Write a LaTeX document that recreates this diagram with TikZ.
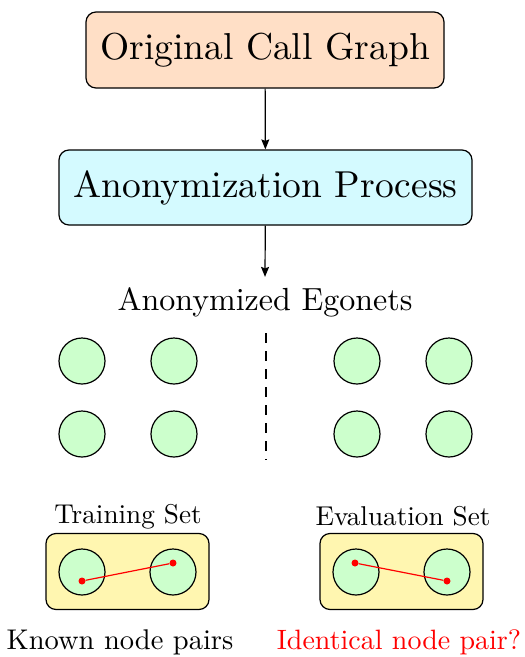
\documentclass[tikz,border=0pt]{standalone}
\usetikzlibrary{arrows.meta}
\definecolor{peach}{HTML}{FFDFC6}
\definecolor{lightcyan}{HTML}{D4FAFF}
\definecolor{nodegreen}{HTML}{CCFFCC}
\definecolor{paleyellow}{HTML}{FFF6B0}
\tikzset{
  stagebox/.style={draw=black, line width=1.2pt, rounded corners=10pt, inner sep=0pt},
  egocircle/.style={circle, draw=black, line width=1.2pt, fill=nodegreen, minimum size=46pt, inner sep=0pt},
  setbox/.style={draw=black, line width=1.2pt, rounded corners=10pt, fill=paleyellow, minimum width=163pt, minimum height=76pt, inner sep=0pt},
  reddot/.style={circle, fill=red, minimum size=7pt, inner sep=0pt},
  pairline/.style={draw=red, line width=1.2pt},
  flow/.style={-{Stealth[length=10pt,width=8pt,inset=1.5pt]}, line width=1.2pt},
  lbl/.style={inner sep=0pt}
}
\begin{document}
\begin{tikzpicture}[x=1pt,y=-1pt]
\useasboundingbox (0,0) rectangle (525,657);
% top boxes
\node[stagebox, fill=peach, minimum width=358pt, minimum height=76pt] (orig) at (265,50) {\scalebox{3.75}{Original Call Graph}};
\node[stagebox, fill=lightcyan, minimum width=413pt, minimum height=75pt] (anon) at (265.5,187.5) {\scalebox{3.75}{Anonymization Process}};
\node[lbl, inner ysep=10pt, anchor=base] (ego) at (265,310) {\scalebox{3.2}{Anonymized Egonets}};
\draw[flow] (orig) -- (anon);
\draw[flow] (anon) -- (ego.north);
% egonet circles
\node[egocircle] (c1) at (82,361) {};
\node[egocircle] (c2) at (174,361) {};
\node[egocircle] (c3) at (82,434) {};
\node[egocircle] (c4) at (174,434) {};
\node[egocircle] (c5) at (357,361) {};
\node[egocircle] (c6) at (449,361) {};
\node[egocircle] (c7) at (357,434) {};
\node[egocircle] (c8) at (449,434) {};
\coordinate (dtop) at (266,333);
\coordinate (dbot) at (266,460);
\draw[line width=1.2pt, dash pattern=on 10pt off 8pt] (dtop) -- (dbot);
% training set
\node[lbl] (trainlbl) at (128,516.5) {\scalebox{2.72}{Training Set}};
\node[setbox] (train) at (127.5,571.5) {};
\node[egocircle] (t1) at (82,572) {};
\node[egocircle] (t2) at (173,572) {};
\node[reddot] (td1) at (82,581) {};
\node[reddot] (td2) at (173,563) {};
\draw[pairline] (td1) -- (td2);
% evaluation set
\node[lbl] (evallbl) at (403,516.5) {\scalebox{2.72}{Evaluation Set}};
\node[setbox] (eval) at (401.5,571.5) {};
\node[egocircle] (e1) at (356,572) {};
\node[egocircle] (e2) at (447,572) {};
\node[reddot] (ed1) at (355,563) {};
\node[reddot] (ed2) at (447,581) {};
\draw[pairline] (ed1) -- (ed2);
% bottom labels
\node[lbl] (known) at (120,642) {\scalebox{2.85}{Known node pairs}};
\node[lbl, text=red] (ident) at (399,642) {\scalebox{2.8}{Identical node pair?}};
\end{tikzpicture}
\end{document}
